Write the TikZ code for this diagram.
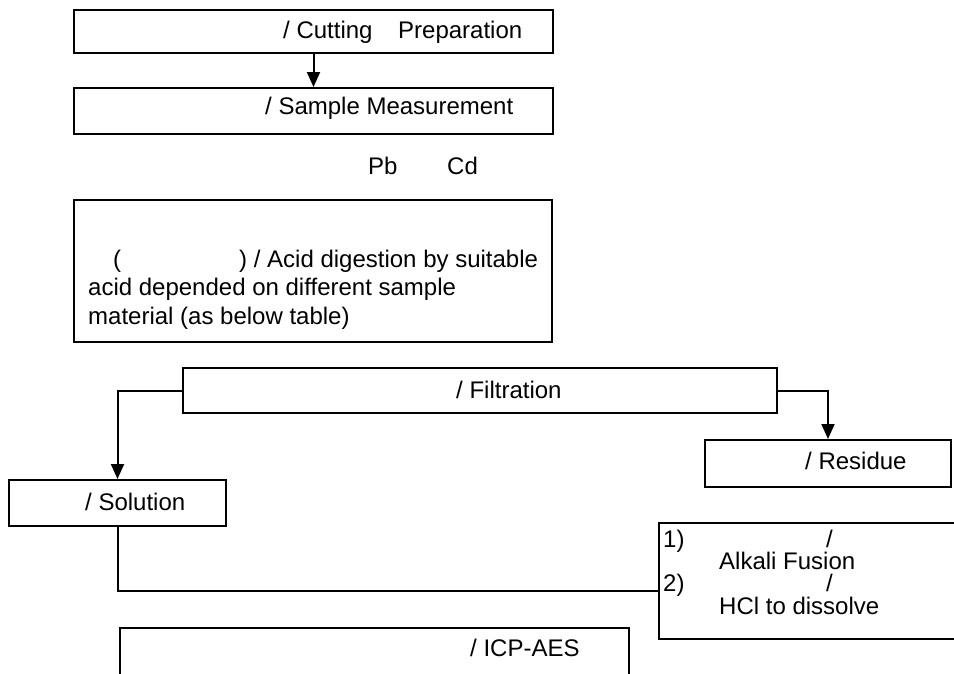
\documentclass[tikz,border=0pt]{standalone}
\usepackage{fontspec}
\setmainfont{Liberation Sans}
\usetikzlibrary{arrows.meta}
\begin{document}
\begin{tikzpicture}[x=1pt,y=-1pt,
  box/.style={draw,line width=2pt,rectangle,inner sep=0pt},
  txt/.style={anchor=base west,inner sep=0pt,font=\fontsize{24}{29}\selectfont},
  conn/.style={line width=2pt},
  arr/.style={conn,-{Triangle[length=15pt,width=13pt]}}]
\useasboundingbox (0,0) rectangle (954,673);
\clip (0,0) rectangle (954,673);
% boxes
\node[box,minimum width=479pt,minimum height=43pt] (b1) at (313.5,31.5) {};
\node[box,minimum width=479pt,minimum height=46pt] (b2) at (313.5,111) {};
\node[box,minimum width=478pt,minimum height=142pt] (b3) at (313,271) {};
\node[box,minimum width=594pt,minimum height=45pt] (filt) at (480,390.5) {};
\node[box,minimum width=246pt,minimum height=47pt] (res) at (828,463.5) {};
\node[box,minimum width=217pt,minimum height=46pt] (sol) at (117.5,503) {};
\node[box,minimum width=316pt,minimum height=116pt] (fus) at (817,581) {};
\node[box,minimum width=509pt,minimum height=62pt] (icp) at (374.5,659) {};
% texts
\node[txt] (t1a) at (283,38) {/ Cutting};
\node[txt] (t1b) at (398,38) {Preparation};
\node[txt] (t2) at (265,114) {/ Sample Measurement};
\node[txt] (pb) at (368,174) {Pb};
\node[txt] (cd) at (447,174) {Cd};
\node[txt] (t3a) at (113,267) {(};
\node[txt] (t3b) at (239,267) {) / Acid digestion by suitable};
\node[txt] (t3c) at (88,295) {acid depended on different sample};
\node[txt] (t3d) at (88,324) {material (as below table)};
\node[txt] (tf) at (456,398) {/ Filtration};
\node[txt] (tr) at (805,469) {/ Residue};
\node[txt] (ts) at (85,510) {/ Solution};
\node[txt] (f1) at (663,547) {1)};
\node[txt] (f1s) at (826,547) {/};
\node[txt] (f1t) at (719,569) {Alkali Fusion};
\node[txt] (f2) at (663,591) {2)};
\node[txt] (f2s) at (826,591) {/};
\node[txt] (f2t) at (719,614) {HCl to dissolve};
\node[txt] (ti) at (470,656) {/ ICP-AES};
% connectors
\coordinate (j) at (fus.west |- 0,591);
\draw[arr] (b1.south) -- (b2.north);
\draw[arr] (filt.west) -| (sol.north);
\draw[arr] (filt.east) -| (res.north);
\draw[conn] (sol.south) |- (j);
\end{tikzpicture}
\end{document}
